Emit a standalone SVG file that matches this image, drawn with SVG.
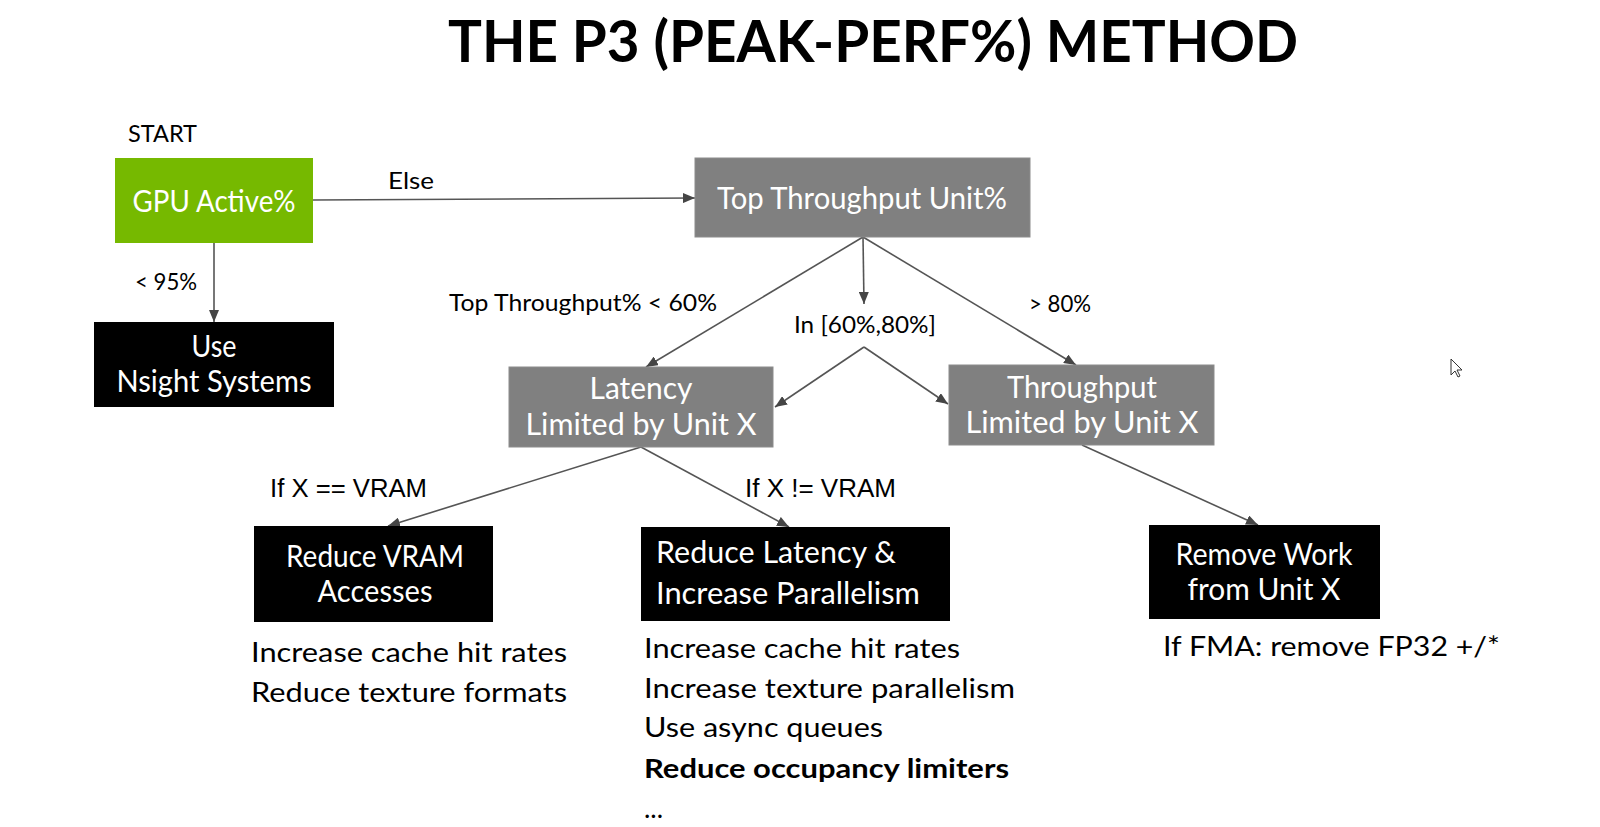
<svg xmlns="http://www.w3.org/2000/svg" width="1600" height="827" viewBox="0 0 1600 827">
<defs>
<marker id="arr" viewBox="0 0 12 10" refX="12" refY="5" markerWidth="12" markerHeight="10" markerUnits="userSpaceOnUse" orient="auto">
<path d="M0,0 L12,5 L0,10 Z" fill="#454545"/>
</marker>
<style>
.ttl{font-family:Lato,"Open Sans",sans-serif;font-weight:bold;font-size:58px;fill:#000}
.bx{font-family:Lato,"Open Sans",sans-serif;font-size:30px;fill:#fff;text-anchor:middle}
.bxl{font-family:Lato,"Open Sans",sans-serif;font-size:30px;fill:#fff}
.lbl{font-family:Lato,"Open Sans",sans-serif;font-size:24px;fill:#000}
.arl{font-family:"Liberation Sans",Arial,sans-serif;font-size:25px;fill:#000}
.lst{font-family:Lato,"Open Sans",sans-serif;font-size:27px;fill:#000}
.edge{stroke:#555;stroke-width:1.6;fill:none}
.gray{fill:#808080;stroke:#8c8c8c;stroke-width:1}
.blk{fill:#000}
</style>
</defs>
<rect width="1600" height="827" fill="#fff"/>
<text class="ttl" x="448" y="62" textLength="850" lengthAdjust="spacingAndGlyphs">THE P3 (PEAK-PERF%) METHOD</text>

<g id="connectors">
<line class="edge" x1="214" y1="243" x2="214" y2="322" marker-end="url(#arr)"/>
<line class="edge" x1="313" y1="200" x2="695" y2="198" marker-end="url(#arr)"/>
<line class="edge" x1="863" y1="237" x2="646" y2="367" marker-end="url(#arr)"/>
<line class="edge" x1="863" y1="237" x2="864" y2="304" marker-end="url(#arr)"/>
<line class="edge" x1="863" y1="237" x2="1076" y2="365" marker-end="url(#arr)"/>
<line class="edge" x1="864" y1="347" x2="775" y2="407" marker-end="url(#arr)"/>
<line class="edge" x1="864" y1="347" x2="948" y2="404" marker-end="url(#arr)"/>
<line class="edge" x1="641" y1="447" x2="388" y2="526" marker-end="url(#arr)"/>
<line class="edge" x1="641" y1="447" x2="789" y2="527" marker-end="url(#arr)"/>
<line class="edge" x1="1082" y1="445" x2="1258" y2="525" marker-end="url(#arr)"/>
</g>

<g id="edge-labels">
<text class="lbl" x="128" y="142" textLength="69" lengthAdjust="spacingAndGlyphs">START</text>
<text class="lbl" x="135" y="290" textLength="62" lengthAdjust="spacingAndGlyphs">&lt; 95%</text>
<text class="lbl" x="388" y="189" textLength="46" lengthAdjust="spacingAndGlyphs">Else</text>
<text class="lbl" x="449" y="311" textLength="268" lengthAdjust="spacingAndGlyphs">Top Throughput% &lt; 60%</text>
<text class="lbl" x="794" y="333" textLength="142" lengthAdjust="spacingAndGlyphs">In [60%,80%]</text>
<text class="lbl" x="1029" y="312" textLength="62" lengthAdjust="spacingAndGlyphs">&gt; 80%</text>
<text class="arl" x="270" y="497" textLength="157" lengthAdjust="spacingAndGlyphs">If X == VRAM</text>
<text class="arl" x="745" y="497" textLength="151" lengthAdjust="spacingAndGlyphs">If X != VRAM</text>
</g>

<g id="gpu-active">
<rect x="115" y="158" width="198" height="85" fill="#76b900"/>
<text class="bx" x="214" y="212" textLength="163" lengthAdjust="spacingAndGlyphs">GPU Active%</text>
</g>

<g id="nsight">
<rect class="blk" x="94" y="322" width="240" height="85"/>
<text class="bx" x="214" y="357" textLength="45" lengthAdjust="spacingAndGlyphs">Use</text>
<text class="bx" x="214" y="392" textLength="195" lengthAdjust="spacingAndGlyphs">Nsight Systems</text>
</g>

<g id="top-throughput">
<rect class="gray" x="695" y="158" width="335" height="79"/>
<text class="bx" x="862" y="209" textLength="290" lengthAdjust="spacingAndGlyphs">Top Throughput Unit%</text>
</g>

<g id="latency-limited">
<rect class="gray" x="509" y="367" width="264" height="80"/>
<text class="bx" x="641" y="399" textLength="103" lengthAdjust="spacingAndGlyphs">Latency</text>
<text class="bx" x="641" y="435" textLength="231" lengthAdjust="spacingAndGlyphs">Limited by Unit X</text>
</g>

<g id="throughput-limited">
<rect class="gray" x="949" y="365" width="265" height="80"/>
<text class="bx" x="1082" y="398" textLength="150" lengthAdjust="spacingAndGlyphs">Throughput</text>
<text class="bx" x="1082" y="433" textLength="233" lengthAdjust="spacingAndGlyphs">Limited by Unit X</text>
</g>

<g id="reduce-vram">
<rect class="blk" x="254" y="526" width="239" height="96"/>
<text class="bx" x="375" y="567" textLength="178" lengthAdjust="spacingAndGlyphs">Reduce VRAM</text>
<text class="bx" x="375" y="602" textLength="115" lengthAdjust="spacingAndGlyphs">Accesses</text>
</g>

<g id="reduce-latency">
<rect class="blk" x="641" y="527" width="309" height="94"/>
<text class="bxl" x="656" y="563" textLength="240" lengthAdjust="spacingAndGlyphs">Reduce Latency &amp;</text>
<text class="bxl" x="656" y="604" textLength="264" lengthAdjust="spacingAndGlyphs">Increase Parallelism</text>
</g>

<g id="remove-work">
<rect class="blk" x="1149" y="525" width="231" height="94"/>
<text class="bx" x="1264" y="565" textLength="177" lengthAdjust="spacingAndGlyphs">Remove Work</text>
<text class="bx" x="1264" y="600" textLength="153" lengthAdjust="spacingAndGlyphs">from Unit X</text>
</g>

<g id="notes-vram">
<text class="lst" x="251" y="662" textLength="316" lengthAdjust="spacingAndGlyphs">Increase cache hit rates</text>
<text class="lst" x="251" y="702" textLength="316" lengthAdjust="spacingAndGlyphs">Reduce texture formats</text>
</g>

<g id="notes-latency">
<text class="lst" x="644" y="658" textLength="316" lengthAdjust="spacingAndGlyphs">Increase cache hit rates</text>
<text class="lst" x="644" y="698" textLength="371" lengthAdjust="spacingAndGlyphs">Increase texture parallelism</text>
<text class="lst" x="644" y="737" textLength="239" lengthAdjust="spacingAndGlyphs">Use async queues</text>
<text class="lst" x="644" y="778" font-weight="bold" textLength="365" lengthAdjust="spacingAndGlyphs">Reduce occupancy limiters</text>
<text class="lst" x="644" y="818">...</text>
</g>

<g id="notes-remove">
<text class="lst" x="1163" y="656" textLength="337" lengthAdjust="spacingAndGlyphs">If FMA: remove FP32 +/*</text>
</g>

<path d="M1451,359 L1451,375 L1455,371 L1458,377 L1460,376 L1457,370 L1462,370 Z" fill="#fff" stroke="#333" stroke-width="1"/>
</svg>
